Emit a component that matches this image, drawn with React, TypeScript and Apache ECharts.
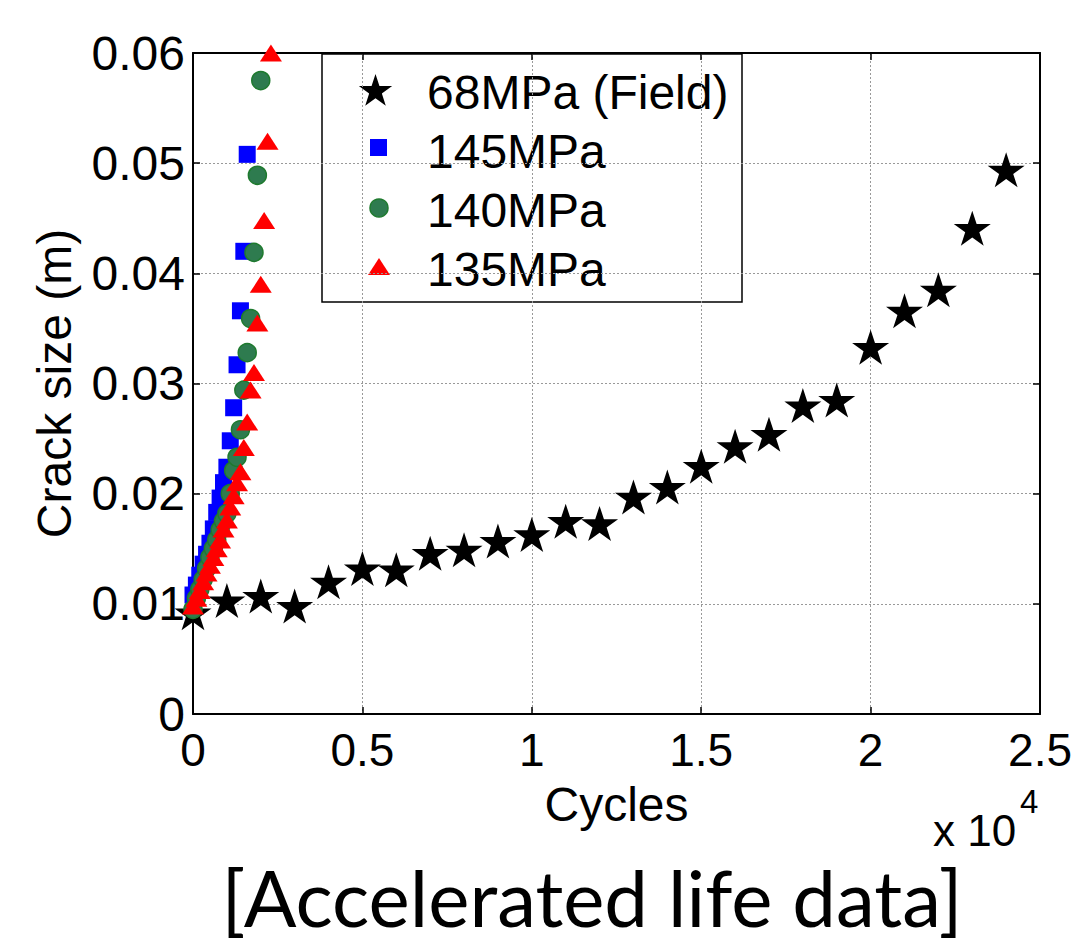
import React, { useEffect, useRef } from "react";
import * as echarts from "echarts";

// Field data (68 MPa): cycles and crack size (m)
const fieldCycles = [0, 1000, 2000, 3000, 4000, 5000, 6000, 7000, 8000, 9000, 10000, 11000, 12000, 13000, 14000, 15000, 16000, 17000, 18000, 19000, 20000, 21000, 22000, 23000, 24000];
const fieldCrack = [0.0092, 0.0103, 0.0107, 0.0098, 0.012, 0.0132, 0.0131, 0.0146, 0.0149, 0.0157, 0.0163, 0.0175, 0.0173, 0.0197, 0.0206, 0.0225, 0.0243, 0.0254, 0.028, 0.0285, 0.0333, 0.0366, 0.0385, 0.0441, 0.0494];

// 145 MPa
const c145Cycles = [0, 100, 200, 300, 400, 500, 600, 700, 800, 900, 1000, 1100, 1200, 1300, 1400, 1500, 1600];
const c145Crack = [0.0108, 0.0117, 0.0126, 0.0136, 0.0145, 0.0155, 0.0168, 0.0183, 0.0196, 0.021, 0.0224, 0.0248, 0.0278, 0.0317, 0.0366, 0.042, 0.0508];

// 140 MPa
const c140Cycles = [0, 100, 200, 300, 400, 500, 600, 700, 800, 900, 1000, 1100, 1200, 1300, 1400, 1500, 1600, 1700, 1800, 1900, 2000];
const c140Crack = [0.0095, 0.0105, 0.0113, 0.0122, 0.0132, 0.0142, 0.015, 0.0158, 0.0167, 0.0175, 0.0182, 0.02, 0.0221, 0.0233, 0.0258, 0.0294, 0.0328, 0.0359, 0.0419, 0.0489, 0.0575];

// 135 MPa
const c135Cycles = [0, 100, 200, 300, 400, 500, 600, 700, 800, 900, 1000, 1100, 1200, 1300, 1400, 1500, 1600, 1700, 1800, 1900, 2000, 2100, 2200, 2300];
const c135Crack = [0.0098, 0.0105, 0.0112, 0.012, 0.0128, 0.0135, 0.0142, 0.015, 0.0158, 0.0168, 0.0176, 0.0188, 0.0198, 0.021, 0.022, 0.0242, 0.0265, 0.0294, 0.031, 0.0355, 0.039, 0.0448, 0.052, 0.06];

const seriesNames = ["68MPa (Field)", "145MPa", "140MPa", "135MPa"];
const xTicks = [0, 5000, 10000, 15000, 20000, 25000];
const yTicks = [0, 0.01, 0.02, 0.03, 0.04, 0.05, 0.06];

const STAR_D =
  "M50,0 L61.23,34.55 L97.55,34.55 L68.16,55.9 L79.39,90.45 L50,69.1 L20.61,90.45 L31.84,55.9 L2.45,34.55 L38.77,34.55 Z";

const zip = (xs: number[], ys: number[]) => xs.map((x, i) => [x, ys[i]]);

const FONT = "'Liberation Sans', Arial, sans-serif";
const FS = 48;

export default function App() {
  const ref = useRef<HTMLDivElement>(null);
  useEffect(() => {
    if (!ref.current) return;
    try {
      echarts.graphic.registerShape("star5", echarts.graphic.extendPath(STAR_D, {}) as any);
    } catch (e) {}
    const chart = echarts.init(ref.current, null, { renderer: "svg" });
    const axisLine = { show: true, onZero: false, lineStyle: { color: "#000", width: 2 } };
    const tick = { show: true, inside: true, length: 7, lineStyle: { color: "#000", width: 1.5 } };
    const legendText = (t: string, y: number) => ({
      type: "text",
      x: 427,
      y,
      style: { text: t, font: `${FS}px ${FONT}`, fill: "#000", verticalAlign: "middle" },
    });
    const option: any = {
      animation: false,
      backgroundColor: "#fff",
      grid: { left: 193, right: 33, top: 53, bottom: 236, containLabel: false },
      xAxis: [
        {
          type: "value",
          min: xTicks[0],
          max: xTicks[xTicks.length - 1],
          interval: 5000,
          position: "bottom",
          axisLine,
          axisTick: tick,
          axisLabel: {
            color: "#000",
            fontSize: 46,
            fontFamily: FONT,
            margin: 13,
            formatter: (v: number) => String(v / 10000),
          },
          splitLine: { show: true, lineStyle: { color: "#999", type: [2, 2], width: 1 } },
          name: "Cycles",
          nameLocation: "middle",
          nameGap: 66,
          nameTextStyle: { color: "#000", fontSize: FS, fontFamily: FONT },
        },
        {
          type: "value",
          min: xTicks[0],
          max: xTicks[xTicks.length - 1],
          interval: 5000,
          position: "top",
          axisLine,
          axisTick: tick,
          axisLabel: { show: false },
          splitLine: { show: false },
        },
      ],
      yAxis: [
        {
          type: "value",
          min: yTicks[0],
          max: yTicks[yTicks.length - 1],
          interval: 0.01,
          position: "left",
          axisLine,
          axisTick: tick,
          axisLabel: {
            color: "#000",
            fontSize: FS,
            fontFamily: FONT,
            margin: 8,
            formatter: (v: number) => String(Number(v.toFixed(2))),
          },
          splitLine: { show: true, lineStyle: { color: "#999", type: [2, 2], width: 1 } },
          name: "Crack size (m)",
          nameLocation: "middle",
          nameRotate: 90,
          nameGap: 115,
          nameTextStyle: { color: "#000", fontSize: FS, fontFamily: FONT },
        },
        {
          type: "value",
          min: yTicks[0],
          max: yTicks[yTicks.length - 1],
          interval: 0.01,
          position: "right",
          axisLine,
          axisTick: tick,
          axisLabel: { show: false },
          splitLine: { show: false },
        },
      ],
      series: [
        {
          name: seriesNames[0],
          type: "scatter",
          data: zip(fieldCycles, fieldCrack),
          symbol: "path://" + STAR_D,
          symbolSize: [37, 35],
          itemStyle: { color: "#000", opacity: 1 },
          z: 2,
        },
        {
          name: seriesNames[1],
          type: "scatter",
          data: zip(c145Cycles, c145Crack),
          symbol: "rect",
          symbolSize: 17,
          itemStyle: { color: "#0000FF", opacity: 1 },
          z: 3,
        },
        {
          name: seriesNames[2],
          type: "scatter",
          data: zip(c140Cycles, c140Crack),
          symbol: "circle",
          symbolSize: 18,
          itemStyle: { color: "#2E7B4F", borderColor: "#1E7A2E", borderWidth: 1.5, opacity: 1 },
          z: 4,
        },
        {
          name: seriesNames[3],
          type: "scatter",
          data: zip(c135Cycles, c135Crack),
          symbol: "triangle",
          symbolSize: [22, 17],
          itemStyle: { color: "#FF0000", opacity: 1 },
          z: 5,
        },
      ],
      graphic: [
        {
          type: "group",
          z: 100,
          children: [
            {
              type: "rect",
              shape: { x: 322, y: 54, width: 420, height: 248 },
              style: { fill: "#fff", stroke: "#000", lineWidth: 1.5 },
            },
            {
              type: "star5",
              x: 375 - 17,
              y: 90 - 16,
              scaleX: 0.35,
              scaleY: 0.35,
              style: { fill: "#000" },
            },
            {
              type: "rect",
              shape: { x: 370, y: 139, width: 17, height: 17 },
              style: { fill: "#0000FF" },
            },
            {
              type: "circle",
              shape: { cx: 379, cy: 208, r: 9 },
              style: { fill: "#2E7B4F", stroke: "#1E7A2E", lineWidth: 1.5 },
            },
            {
              type: "polygon",
              shape: { points: [[379, 258], [390, 275], [368, 275]] },
              style: { fill: "#FF0000" },
            },
            legendText(seriesNames[0], 92),
            legendText(seriesNames[1], 151),
            legendText(seriesNames[2], 210),
            legendText(seriesNames[3], 269),
          ],
        },
        {
          type: "text",
          x: 933,
          y: 830,
          style: { text: "x 10", font: `44px ${FONT}`, fill: "#000", verticalAlign: "middle" },
        },
        {
          type: "text",
          x: 1020,
          y: 801,
          style: { text: "4", font: `33px ${FONT}`, fill: "#000", verticalAlign: "middle" },
        },
        {
          type: "text",
          x: 592,
          y: 897,
          style: {
            text: "[Accelerated life data]",
            font: `78px Lato, 'Open Sans', sans-serif`,
            fill: "#000",
            align: "center",
            verticalAlign: "middle",
          },
        },
      ],
    };
    chart.setOption(option);
    return () => chart.dispose();
  }, []);
  return (
    <div
      ref={ref}
      style={{ width: 1075, height: 950, position: "fixed", left: 0, top: 0 }}
    />
  );
}
